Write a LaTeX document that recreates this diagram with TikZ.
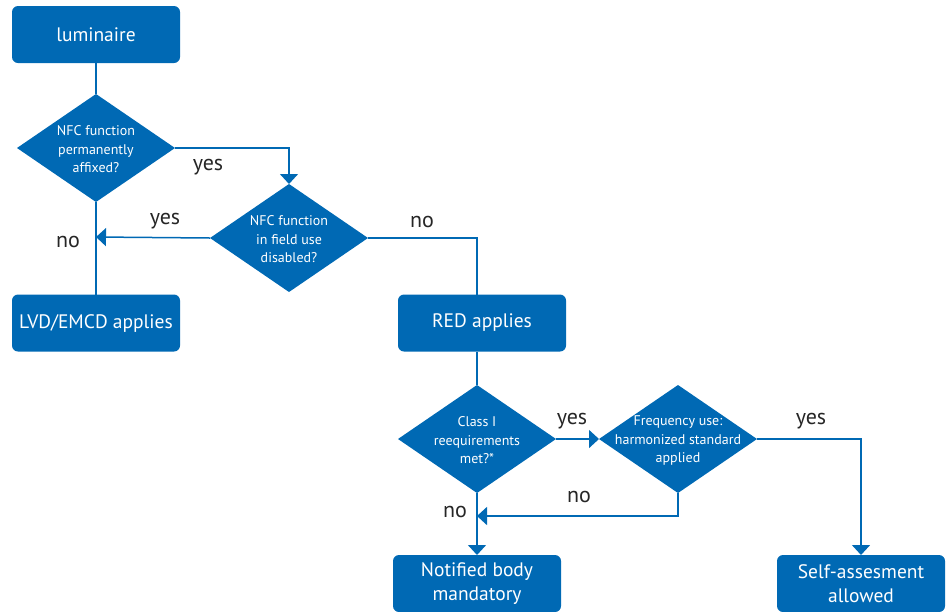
\documentclass[tikz,border=0pt]{standalone}
\usepackage{fontspec}
\setmainfont{PT Sans}
\usetikzlibrary{shapes.geometric,arrows.meta}
\definecolor{eblue}{RGB}{0,105,180}
\begin{document}
\begin{tikzpicture}[x=1pt,y=-1pt,
  box/.style={draw=none,fill=eblue,rounded corners=6pt,minimum width=168pt,minimum height=57pt,inner sep=0pt,outer sep=0pt,text=white,font=\fontsize{19.5}{24}\selectfont,align=center},
  dtext/.style={text=white,font=\fontsize{14}{18.5}\selectfont,align=center,inner sep=0pt},
  dia/.style={draw=none,fill=eblue,shape=diamond,minimum width=158pt,minimum height=108pt,inner sep=0pt,outer sep=0pt,label={[dtext,yshift=-1.5pt]center:#1}},
  conn/.style={draw=eblue,line width=1.5pt},
  arr/.style={conn,-{Triangle[width=18pt,length=10pt]}},
  lab/.style={text=black!85,font=\fontsize{22}{24}\selectfont,inner sep=0pt}]
\useasboundingbox (0,0) rectangle (949,611);
\node[box] (lum) at (96,34.5) {luminaire};
\node[dia={NFC function\\permanently\\affixed?}] (d1) at (96,148) {};
\node[dia={NFC function\\in field use\\disabled?}] (d2) at (289,238) {};
\node[box] (lvd) at (96,323) {LVD/EMCD applies};
\node[box] (red) at (482,323) {RED applies};
\node[dia={Class I\\reequirements\\met?*}] (d3) at (477,439) {};
\node[dia={Frequency use:\\harmonized standard\\applied}] (d4) at (678,439) {};
\node[box] (nb) at (477,583.5) {Notified body\\mandatory};
\node[box] (sa) at (861,583.5) {Self-assesment\\allowed};
\coordinate (j1) at (96,237);
\coordinate (j2) at (477,516);
\draw[conn] (lum.south) -- (d1.north);
\draw[arr] (d1.east) -| (d2.north);
\draw[conn] (d1.south) -- (lvd.north);
\draw[arr] (d2.west) -- (j1);
\draw[conn] (d2.east) -| (red.north -| d3.north);
\draw[conn] (red.south -| d3.north) -- (d3.north);
\draw[arr] (d3.east) -- (d4.west);
\draw[arr] (d3.south) -- (nb.north);
\draw[arr] (d4.south) |- (j2);
\draw[arr] (d4.east) -| (sa.north);
\node[lab] (l1) at (208,167) {yes};
\node[lab] (l2) at (165,221) {yes};
\node[lab] (l3) at (68,242) {no};
\node[lab] (l4) at (422,222) {no};
\node[lab] (l5) at (572,421) {yes};
\node[lab] (l6) at (579,497) {no};
\node[lab] (l7) at (455,512) {no};
\node[lab] (l8) at (811,421) {yes};
\end{tikzpicture}
\end{document}
